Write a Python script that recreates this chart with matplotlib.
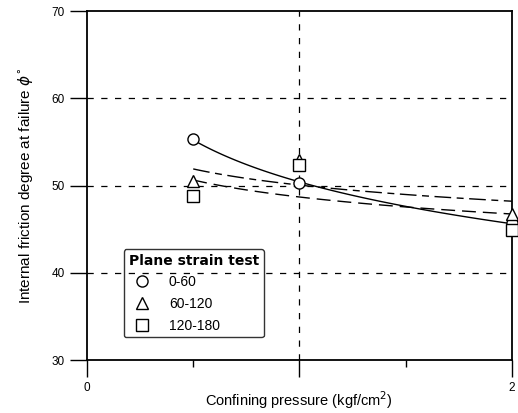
import numpy as np
import matplotlib
matplotlib.use('Agg')
import matplotlib.pyplot as plt

plt.rcParams['font.family'] = ['Liberation Sans', 'DejaVu Sans']
plt.rcParams['mathtext.fontset'] = 'dejavusans'

# Confining pressure (kgf/cm2) and friction angle at failure for each group
pressure = [0.5, 1.0, 2.0]
phi_0_60 = [55.3, 50.3, 45.7]
phi_60_120 = [50.5, 52.9, 46.8]
phi_120_180 = [48.8, 52.4, 44.9]
group_labels = ['0-60', '60-120', '120-180']

xtick_vals = [0, 1, 2]
xtick_labels = ['0', '', '2']
ytick_vals = [30, 40, 50, 60, 70]


def log_fit(x, y):
    # least squares fit of y = a + b*ln(x)
    b, a = np.polyfit(np.log(x), y, 1)
    xs = np.linspace(min(x), max(x), 100)
    return xs, a + b * np.log(xs)


fig = plt.figure(figsize=(5.18, 4.13), dpi=100)
ax = fig.add_axes([0.168, 0.128, 0.820, 0.845])

# dashed reference grid
for yv in [40, 50, 60]:
    ax.axhline(yv, color='black', lw=0.9, dashes=(5, 6), zorder=1)
ax.axvline(1.0, color='black', lw=0.9, dashes=(5, 6), zorder=1)

# fitted trends
xs, ys = log_fit(pressure, phi_0_60)
ax.plot(xs, ys, color='black', lw=1.0, zorder=2)
xs, ys = log_fit(pressure, phi_60_120)
ax.plot(xs, ys, color='black', lw=1.0, dashes=(12, 4, 5, 4), zorder=2)
xs, ys = log_fit(pressure, phi_120_180)
ax.plot(xs, ys, color='black', lw=1.0, dashes=(10, 5), zorder=2)

# measured points
mk = dict(mfc='white', mec='black', mew=1.0, ls='none', zorder=3, clip_on=False)
h1, = ax.plot(pressure, phi_0_60, 'o', ms=8, label=group_labels[0], **mk)
h2, = ax.plot(pressure, phi_60_120, '^', ms=8, label=group_labels[1], **mk)
h3, = ax.plot(pressure, phi_120_180, 's', ms=9, label=group_labels[2], **mk)

ax.set_xlim(0, 2)
ax.set_ylim(30, 70)
ax.set_xticks(xtick_vals)
ax.set_xticklabels(xtick_labels)
ax.set_xticks([0.5, 1.5], minor=True)
ax.set_yticks(ytick_vals)
ax.tick_params(axis='both', which='major', direction='out', length=12, width=1.0,
               labelsize=8.5, pad=4)
ax.tick_params(axis='x', which='minor', direction='out', length=5, width=1.0)
for sp in ax.spines.values():
    sp.set_linewidth(1.3)

ax.set_xlabel('Confining pressure (kgf/cm$^2$)', fontsize=10.5)
ax.xaxis.set_label_coords(0.5, -0.085)
ax.set_ylabel(r'Internal friction degree at failure $\phi^{\circ}$', fontsize=11,
              labelpad=12)

leg = ax.legend(handles=[h1, h2, h3], title='Plane strain test', loc='lower left',
                bbox_to_anchor=(0.07, 0.045), frameon=True, fancybox=True,
                facecolor='none', edgecolor='black', fontsize=10,
                title_fontproperties={'weight': 'bold', 'size': 10,
                                      'family': 'DejaVu Sans'},
                handletextpad=0.9, borderpad=0.35, labelspacing=0.55,
                alignment='left')
leg.get_frame().set_linewidth(1.0)

fig.savefig('out.png', dpi=100)
